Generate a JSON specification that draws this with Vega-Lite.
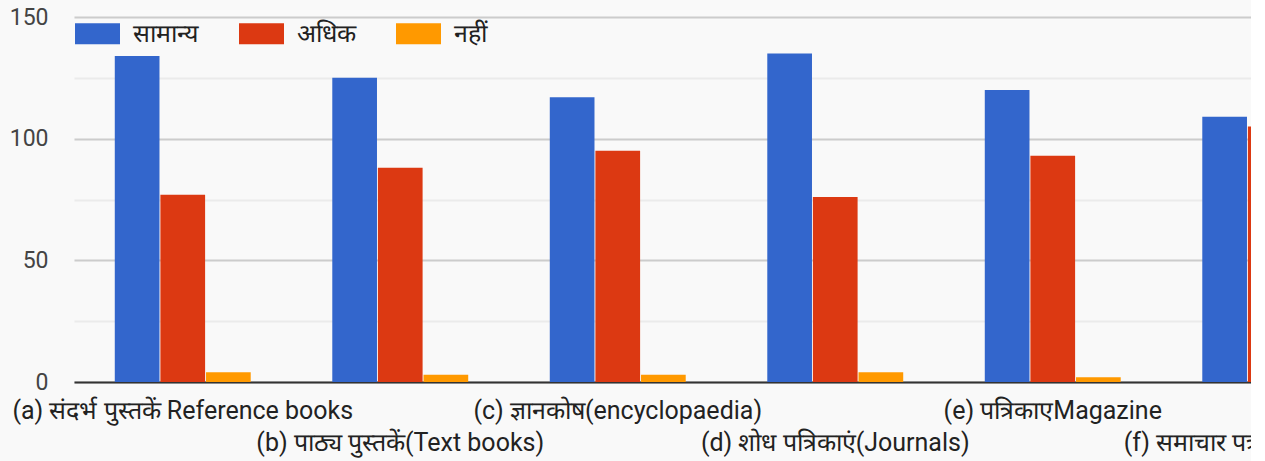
{
  "$schema": "https://vega.github.io/schema/vega-lite/v6.json",
  "width": 1177,
  "height": 365,
  "autosize": {"type": "none"},
  "padding": {"left": 74, "top": 17, "right": 0, "bottom": 79},
  "background": "#f9f9f9",
  "config": {"view": {"stroke": null}, "font": "Roboto"},
  "data": {
    "values": [
      {"category": "(a) संदर्भ पुस्तकें Reference books", "series": "सामान्य", "value": 134},
      {"category": "(a) संदर्भ पुस्तकें Reference books", "series": "अधिक", "value": 77},
      {"category": "(a) संदर्भ पुस्तकें Reference books", "series": "नहीं", "value": 4},
      {"category": "(b) पाठ्य पुस्तकें(Text books)", "series": "सामान्य", "value": 125},
      {"category": "(b) पाठ्य पुस्तकें(Text books)", "series": "अधिक", "value": 88},
      {"category": "(b) पाठ्य पुस्तकें(Text books)", "series": "नहीं", "value": 3},
      {"category": "(c) ज्ञानकोष(encyclopaedia)", "series": "सामान्य", "value": 117},
      {"category": "(c) ज्ञानकोष(encyclopaedia)", "series": "अधिक", "value": 95},
      {"category": "(c) ज्ञानकोष(encyclopaedia)", "series": "नहीं", "value": 3},
      {"category": "(d) शोध पत्रिकाएं(Journals)", "series": "सामान्य", "value": 135},
      {"category": "(d) शोध पत्रिकाएं(Journals)", "series": "अधिक", "value": 76},
      {"category": "(d) शोध पत्रिकाएं(Journals)", "series": "नहीं", "value": 4},
      {"category": "(e) पत्रिकाएMagazine", "series": "सामान्य", "value": 120},
      {"category": "(e) पत्रिकाएMagazine", "series": "अधिक", "value": 93},
      {"category": "(e) पत्रिकाएMagazine", "series": "नहीं", "value": 2},
      {"category": "(f) समाचार पत्र(Newspapers)", "series": "सामान्य", "value": 109},
      {"category": "(f) समाचार पत्र(Newspapers)", "series": "अधिक", "value": 105},
      {"category": "(f) समाचार पत्र(Newspapers)", "series": "नहीं", "value": 2}
    ]
  },
  "mark": {"type": "bar"},
  "encoding": {
    "x": {
      "field": "category",
      "type": "nominal",
      "sort": null,
      "scale": {"range": [0, 1305], "paddingInner": 0.375, "paddingOuter": 0.1875},
      "axis": {
        "title": null,
        "labelAngle": 0,
        "ticks": false,
        "tickSize": 0,
        "grid": false,
        "domainColor": "#333333",
        "domainWidth": 2,
        "labelFontSize": 25,
        "labelColor": "#222222",
        "labelOverlap": false,
        "labelLimit": 0,
        "labelBaseline": "middle",
        "labelPadding": {"condition": {"test": "indexof(['b','d','f'], substring(datum.value,1,2)) >= 0", "value": 60}, "value": 28}
      }
    },
    "xOffset": {
      "field": "series",
      "type": "nominal",
      "scale": {"domain": ["सामान्य", "अधिक", "नहीं"], "paddingInner": 0.02, "paddingOuter": 0}
    },
    "y": {
      "field": "value",
      "type": "quantitative",
      "scale": {"domain": [0, 150], "nice": false},
      "axis": {
        "title": null,
        "values": [0, 25, 50, 75, 100, 125, 150],
        "labelExpr": "datum.value % 50 === 0 ? datum.label : ''",
        "gridColor": {"condition": {"test": "datum.value % 50 === 0", "value": "#cccccc"}, "value": "#ebebeb"},
        "gridWidth": 2,
        "domain": false,
        "ticks": false,
        "labelPadding": 26,
        "labelFontSize": 23,
        "labelColor": "#444444"
      }
    },
    "color": {
      "field": "series",
      "type": "nominal",
      "scale": {"domain": ["सामान्य", "अधिक", "नहीं"], "range": ["#3366cc", "#dc3912", "#ff9900"]},
      "legend": {
        "title": null,
        "orient": "none",
        "legendX": 1,
        "legendY": -6,
        "direction": "horizontal",
        "symbolType": "M-1,-0.467H1V0.467H-1Z",
        "symbolSize": 2025,
        "symbolStrokeWidth": 0,
        "symbolOpacity": 1,
        "labelFontSize": 25,
        "labelColor": "#222222",
        "labelOffset": 13,
        "columnPadding": 40
      }
    }
  }
}
